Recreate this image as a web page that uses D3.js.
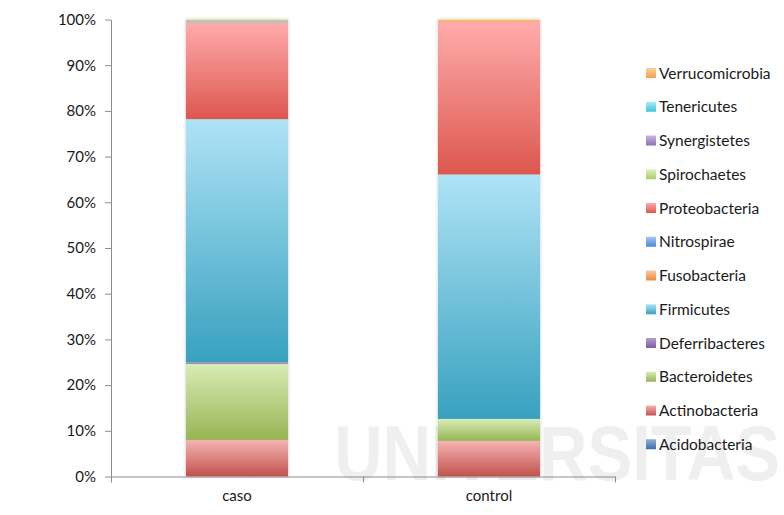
<!DOCTYPE html>
<html>
<head>
<meta charset="utf-8">
<script src="https://cdn.jsdelivr.net/npm/d3@7/dist/d3.min.js"></script>
<style>
  html, body { margin: 0; padding: 0; background: #fff; }
  svg { display: block; font-family: Lato, "Open Sans", sans-serif; }
</style>
</head>
<body>
<svg id="chart" width="784" height="515"></svg>
<script>
// Groups on the x axis
const categories = ["caso", "control"];

// Phyla, in stacking order (bottom to top)
const phyla = [
  "Acidobacteria", "Actinobacteria", "Bacteroidetes", "Deferribacteres",
  "Firmicutes", "Fusobacteria", "Nitrospirae", "Proteobacteria",
  "Spirochaetes", "Synergistetes", "Tenericutes", "Verrucomicrobia"
];

// Relative abundance (%) per phylum, one array per group
const casoValues    = [0.0, 8.0, 16.7, 0.3, 53.2, 0.0, 0.0, 21.2, 0.0, 0.0, 0.3, 0.3];
const controlValues = [0.0, 7.8, 4.8, 0.0, 53.5, 0.0, 0.0, 33.4, 0.0, 0.0, 0.0, 0.5];

// Axis tick values
const yTicks = [0, 0.1, 0.2, 0.3, 0.4, 0.5, 0.6, 0.7, 0.8, 0.9, 1.0];

// Gradient stops per phylum: [light top, dark bottom]
const phylumColors = {
  Acidobacteria:   ["#8fb0dc", "#3f6fae"],
  Actinobacteria:  ["#f4b4b3", "#c2524e"],
  Bacteroidetes:   ["#d9ecb5", "#96b554"],
  Deferribacteres: ["#b2a0cc", "#7a5e9e"],
  Firmicutes:      ["#afe3f6", "#38a1bf"],
  Fusobacteria:    ["#fbc9a0", "#ef8a3c"],
  Nitrospirae:     ["#a3c6f0", "#4c8ad6"],
  Proteobacteria:  ["#ffacac", "#dc574e"],
  Spirochaetes:    ["#e2f2c3", "#a7cc63"],
  Synergistetes:   ["#c7b6e2", "#8d6fba"],
  Tenericutes:     ["#a8eef8", "#40c4dc"],
  Verrucomicrobia: ["#fcd09a", "#f6a24a"]
};

const svg = d3.select("#chart");
const defs = svg.append("defs");

phyla.forEach((p, i) => {
  const g = defs.append("linearGradient")
    .attr("id", "grad" + i)
    .attr("x1", 0).attr("y1", 0).attr("x2", 0).attr("y2", 1);
  g.append("stop").attr("offset", "0%").attr("stop-color", phylumColors[p][0]);
  g.append("stop").attr("offset", "100%").attr("stop-color", phylumColors[p][1]);
});

const shadow = defs.append("filter").attr("id", "barShadow")
  .attr("x", "-10%").attr("y", "-5%").attr("width", "120%").attr("height", "110%");
shadow.append("feDropShadow")
  .attr("dx", 0).attr("dy", 0).attr("stdDeviation", 1.6)
  .attr("flood-color", "#000").attr("flood-opacity", 0.28);

// Faint background watermark
svg.append("text")
  .attr("x", 334).attr("y", 480)
  .attr("textLength", 446).attr("lengthAdjust", "spacingAndGlyphs")
  .attr("font-family", "'Liberation Sans', Arial, sans-serif")
  .attr("font-weight", "bold").attr("font-size", 78)
  .attr("fill", "#efefef")
  .text("UNIVERSITAS");

const plotLeft = 111, plotRight = 615, plotTop = 19.5, plotBottom = 476.5;

const x = d3.scaleBand()
  .domain(categories)
  .range([plotLeft, plotRight])
  .paddingInner(0.595)
  .paddingOuter(0.2976);

const y = d3.scaleLinear().domain([0, 1]).range([plotBottom, plotTop]);

// Build rows for d3.stack
const rows = categories.map((c, ci) => {
  const vals = ci === 0 ? casoValues : controlValues;
  const row = { category: c };
  phyla.forEach((p, i) => { row[p] = vals[i] / 100; });
  return row;
});

const series = d3.stack().keys(phyla)(rows);

const barsG = svg.append("g").attr("filter", "url(#barShadow)");
series.forEach((s, i) => {
  barsG.selectAll(null)
    .data(s.filter(d => d[1] - d[0] > 0))
    .join("rect")
    .attr("x", d => x(d.data.category))
    .attr("width", x.bandwidth())
    .attr("y", d => y(d[1]))
    .attr("height", d => y(d[0]) - y(d[1]))
    .attr("fill", `url(#grad${i})`);
});

// Y axis
const yAxis = svg.append("g")
  .attr("transform", `translate(${plotLeft},0)`)
  .call(d3.axisLeft(y).tickValues(yTicks).tickFormat(d3.format(".0%"))
    .tickSize(6).tickSizeOuter(0).tickPadding(9));
yAxis.select(".domain").attr("stroke", "#8c8c8c");
yAxis.selectAll(".tick line").attr("stroke", "#8c8c8c");
yAxis.selectAll(".tick text")
  .attr("fill", "#1a1a1a").attr("font-size", 15)
  .attr("font-family", "Lato, 'Open Sans', sans-serif");

// X axis: boundary ticks between groups
const xEdge = d3.scaleLinear().domain([0, categories.length]).range([plotLeft, plotRight]);
const xAxisEdges = svg.append("g")
  .attr("transform", `translate(0,${plotBottom})`)
  .call(d3.axisBottom(xEdge).tickValues(d3.range(categories.length + 1))
    .tickFormat("").tickSize(6).tickSizeOuter(0));
xAxisEdges.select(".domain").attr("stroke", "#8c8c8c");
xAxisEdges.selectAll(".tick line").attr("stroke", "#8c8c8c");

// X axis: group labels
const xAxisLabels = svg.append("g")
  .attr("transform", `translate(0,${plotBottom})`)
  .call(d3.axisBottom(x).tickSize(0).tickPadding(14));
xAxisLabels.select(".domain").remove();
xAxisLabels.selectAll(".tick text")
  .attr("fill", "#1a1a1a").attr("font-size", 15)
  .attr("font-family", "Lato, 'Open Sans', sans-serif");

// Legend (top entry is the last phylum)
const legendItems = phyla.slice().reverse();
const legend = svg.append("g").attr("transform", "translate(646,0)");
legendItems.forEach((p, k) => {
  const cy = 73 + k * 33.75;
  const idx = phyla.indexOf(p);
  legend.append("rect")
    .attr("x", 0).attr("y", cy - 5).attr("width", 10).attr("height", 10)
    .attr("fill", `url(#grad${idx})`);
  legend.append("text")
    .attr("x", 13).attr("y", cy + 5.5)
    .attr("font-size", 15.5).attr("fill", "#1a1a1a")
    .attr("font-family", "Lato, 'Open Sans', sans-serif")
    .text(p);
});
</script>
</body>
</html>
